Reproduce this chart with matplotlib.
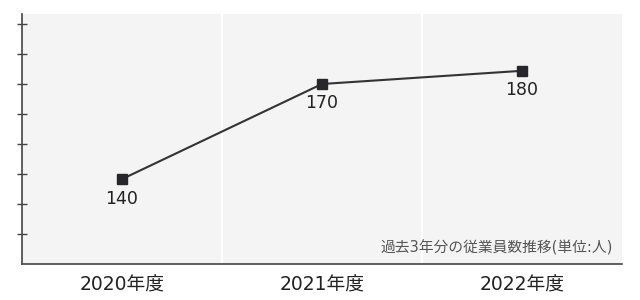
import matplotlib
matplotlib.use("Agg")
import matplotlib.pyplot as plt

# wide latin digits from DejaVu, kanji fall back to Noto Sans CJK JP
plt.rcParams['font.family'] = ['DejaVu Sans', 'Noto Sans CJK JP']

# data
years = ['2020年度', '2021年度', '2022年度']
employees = [140, 170, 180]           # point labels
levels = [2.83, 6.0, 6.44]            # plotted height, in tick steps of the (unlabelled) y axis
note = '過去3年分の従業員数推移(単位:人)'

fig = plt.figure(figsize=(6.4, 3.0), dpi=100)
ax = fig.add_axes([22 / 640, 36 / 300, 600 / 640, 250 / 300])
ax.set_facecolor('#f4f4f4')

x = list(range(len(years)))
ax.set_xlim(-0.5, len(years) - 0.5)
ax.set_ylim(0, 250 / 30)

# white separators between categories
for b in x[:-1]:
    ax.axvline(b + 0.5, color='white', lw=1.5, zorder=1)

ax.plot(x, levels, color='#333333', lw=1.5, zorder=3,
        marker='s', markersize=7.5, markerfacecolor='#26262b', markeredgecolor='#26262b')

for xi, yi, v in zip(x, levels, employees):
    ax.annotate(str(v), (xi, yi), xytext=(0, -14), textcoords='offset points',
                ha='center', va='center', fontsize=12.5, color='#222222', zorder=4)

ax.text(0.985, 0.065, note, transform=ax.transAxes, ha='right', va='center',
        fontsize=10.6, color='#555555')

for s in ['top', 'right']:
    ax.spines[s].set_visible(False)
for s in ['left', 'bottom']:
    ax.spines[s].set_color('#444444')
    ax.spines[s].set_linewidth(1.2)

ax.set_yticks(range(1, 9))
ax.set_yticklabels([])
ax.tick_params(axis='y', direction='inout', length=6.5, width=1, color='#444444')
ax.set_xticks(x)
ax.set_xticklabels(years, fontsize=13.5, color='#222222')
ax.tick_params(axis='x', length=0, pad=8)

fig.savefig('out.png', dpi=100)
